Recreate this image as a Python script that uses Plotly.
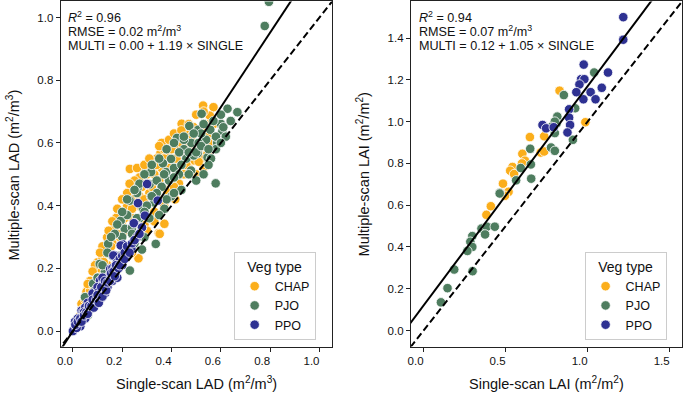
import plotly.graph_objects as go

W, H = 684, 394

# ---------------- data ----------------
# Left panel: LAD, single-scan (x) vs multiple-scan (y)
lad_chap_x = [0.528, 0.570, 0.555, 0.441, 0.546, 0.382, 0.465, 0.49, 0.355, 0.382, 0.317, 0.284, 0.34, 0.27,
              0.237, 0.230, 0.244, 0.19, 0.176, 0.139, 0.130, 0.10, 0.093, 0.062, 0.055, 0.035, 0.266, 0.348,
              0.371, 0.398, 0.415, 0.438, 0.492, 0.52, 0.546, 0.566, 0.56, 0.51, 0.45, 0.40, 0.42, 0.36, 0.33,
              0.30, 0.31, 0.28, 0.26, 0.22, 0.20, 0.21, 0.17, 0.16, 0.15, 0.12, 0.11, 0.08, 0.07, 0.05, 0.04,
              0.03, 0.13, 0.18, 0.22, 0.25, 0.29, 0.33, 0.35, 0.38, 0.43, 0.47, 0.50, 0.53, 0.45, 0.48, 0.37,
              0.32, 0.25, 0.27, 0.24, 0.19, 0.14, 0.09, 0.06, 0.352, 0.231, 0.285, 0.43, 0.40, 0.36,
              0.26, 0.29, 0.31, 0.35, 0.39, 0.41, 0.44, 0.47, 0.50, 0.53, 0.22, 0.23, 0.20, 0.18, 0.16,
              0.145, 0.12, 0.11, 0.09, 0.08, 0.07, 0.06, 0.30, 0.34, 0.37, 0.40, 0.44, 0.47, 0.49, 0.52,
              0.55, 0.57, 0.29, 0.27, 0.32, 0.35, 0.39, 0.42, 0.46, 0.51, 0.24, 0.21, 0.18, 0.155, 0.125,
              0.10, 0.085, 0.37, 0.41, 0.33, 0.30, 0.24, 0.20, 0.42, 0.48, 0.55]
lad_chap_y = [0.719, 0.714, 0.687, 0.661, 0.658, 0.604, 0.626, 0.63, 0.567, 0.567, 0.538, 0.516, 0.55, 0.49,
              0.459, 0.438, 0.42, 0.379, 0.361, 0.299, 0.267, 0.219, 0.182, 0.14, 0.125, 0.087, 0.232, 0.312,
              0.342, 0.427, 0.42, 0.507, 0.544, 0.55, 0.566, 0.613, 0.59, 0.58, 0.57, 0.55, 0.58, 0.52, 0.50,
              0.47, 0.44, 0.46, 0.40, 0.40, 0.35, 0.32, 0.33, 0.28, 0.25, 0.23, 0.20, 0.16, 0.13, 0.10, 0.07,
              0.05, 0.17, 0.22, 0.26, 0.30, 0.34, 0.38, 0.42, 0.45, 0.47, 0.52, 0.50, 0.52, 0.50, 0.62, 0.58,
              0.52, 0.48, 0.43, 0.36, 0.30, 0.21, 0.12, 0.08, 0.31, 0.517, 0.517, 0.61, 0.47, 0.60,
              0.52, 0.53, 0.55, 0.59, 0.61, 0.63, 0.64, 0.66, 0.69, 0.70, 0.44, 0.47, 0.42, 0.39, 0.35,
              0.32, 0.27, 0.25, 0.21, 0.19, 0.16, 0.15, 0.50, 0.53, 0.55, 0.58, 0.60, 0.59, 0.65, 0.64,
              0.63, 0.66, 0.42, 0.40, 0.46, 0.48, 0.52, 0.55, 0.53, 0.54, 0.39, 0.36, 0.31, 0.27, 0.22,
              0.17, 0.14, 0.40, 0.46, 0.35, 0.32, 0.25, 0.22, 0.50, 0.56, 0.60]

lad_pjo_x = [0.627, 0.667, 0.522, 0.472, 0.6, 0.606, 0.422, 0.508, 0.557, 0.48, 0.45, 0.431, 0.398, 0.365,
             0.317, 0.506, 0.546, 0.479, 0.378, 0.41, 0.579, 0.264, 0.311, 0.34, 0.23, 0.317, 0.284, 0.371,
             0.194, 0.21, 0.24, 0.143, 0.20, 0.29, 0.336, 0.231, 0.109, 0.082, 0.049, 0.03, 0.778, 0.795,
             0.44, 0.50, 0.53, 0.56, 0.585, 0.54, 0.46, 0.36, 0.33, 0.27, 0.25, 0.21, 0.18, 0.15, 0.12, 0.10,
             0.07, 0.06, 0.04, 0.16, 0.13, 0.39, 0.30, 0.35, 0.40, 0.43, 0.51, 0.58, 0.62, 0.17, 0.22, 0.26,
             0.28, 0.45, 0.49, 0.52,
             0.38, 0.41, 0.45, 0.49, 0.53, 0.57, 0.60, 0.35, 0.32, 0.29, 0.27, 0.25, 0.22, 0.20, 0.18,
             0.155, 0.14, 0.12, 0.10, 0.09, 0.34, 0.37, 0.41, 0.44, 0.47, 0.50, 0.52, 0.55, 0.58, 0.61,
             0.64, 0.31, 0.28, 0.26, 0.23, 0.19, 0.32, 0.29, 0.24, 0.26, 0.38, 0.41, 0.47, 0.55, 0.60]
lad_pjo_y = [0.709, 0.698, 0.693, 0.654, 0.661, 0.637, 0.616, 0.642, 0.642, 0.60, 0.58, 0.570, 0.549, 0.535,
             0.507, 0.567, 0.554, 0.512, 0.507, 0.52, 0.471, 0.459, 0.468, 0.48, 0.416, 0.429, 0.39, 0.39,
             0.352, 0.326, 0.33, 0.278, 0.30, 0.299, 0.278, 0.193, 0.214, 0.151, 0.108, 0.023, 0.973, 1.05,
             0.45, 0.48, 0.50, 0.55, 0.60, 0.61, 0.55, 0.46, 0.41, 0.36, 0.28, 0.25, 0.21, 0.18, 0.14, 0.11,
             0.08, 0.05, 0.04, 0.24, 0.19, 0.48, 0.40, 0.37, 0.43, 0.50, 0.60, 0.58, 0.62, 0.31, 0.37, 0.44,
             0.26, 0.61, 0.56, 0.63,
             0.58, 0.60, 0.62, 0.63, 0.66, 0.67, 0.69, 0.55, 0.53, 0.50, 0.47, 0.45, 0.42, 0.38, 0.34,
             0.30, 0.25, 0.21, 0.17, 0.13, 0.44, 0.50, 0.49, 0.53, 0.57, 0.57, 0.59, 0.58, 0.62, 0.65,
             0.67, 0.36, 0.33, 0.30, 0.27, 0.24, 0.43, 0.38, 0.31, 0.36, 0.42, 0.44, 0.50, 0.53, 0.60]

lad_ppo_x = [0.301, 0.344, 0.264, 0.25, 0.203, 0.169, 0.237, 0.156, 0.116, 0.089, 0.035, 0.009, 0.0,
             0.292, 0.247, 0.194, 0.164, 0.151, 0.11, 0.02, 0.03, 0.04, 0.05, 0.06, 0.07, 0.08, 0.09,
             0.10, 0.11, 0.12, 0.13, 0.14, 0.15, 0.16, 0.17, 0.18, 0.19, 0.20, 0.21, 0.22, 0.24, 0.26,
             0.28, 0.05, 0.07, 0.10, 0.12, 0.14, 0.16, 0.04, 0.06, 0.08, 0.10, 0.12, 0.02, 0.03, 0.015,
             0.05, 0.09, 0.11, 0.13, 0.18, 0.20, 0.025, 0.045, 0.065, 0.085, 0.105, 0.125,
             0.01, 0.02, 0.03, 0.035, 0.045, 0.055, 0.06, 0.065, 0.075, 0.08, 0.085, 0.095, 0.10, 0.105,
             0.115, 0.12, 0.13, 0.135, 0.14, 0.15, 0.155, 0.165, 0.17, 0.175, 0.185, 0.19, 0.21, 0.23,
             0.25, 0.27]
lad_ppo_y = [0.469, 0.416, 0.408, 0.344, 0.276, 0.241, 0.262, 0.193, 0.151, 0.108, 0.065, 0.031, 0.0,
             0.368, 0.344, 0.273, 0.241, 0.198, 0.161, 0.02, 0.03, 0.05, 0.05, 0.07, 0.09, 0.09, 0.11,
             0.12, 0.13, 0.15, 0.15, 0.17, 0.18, 0.20, 0.20, 0.22, 0.23, 0.24, 0.25, 0.27, 0.28, 0.30,
             0.33, 0.04, 0.07, 0.10, 0.12, 0.14, 0.16, 0.06, 0.09, 0.12, 0.14, 0.17, 0.04, 0.015, 0.01,
             0.075, 0.09, 0.10, 0.12, 0.17, 0.21, 0.035, 0.06, 0.08, 0.10, 0.125, 0.145,
             0.02, 0.03, 0.04, 0.03, 0.05, 0.06, 0.055, 0.08, 0.08, 0.10, 0.075, 0.10, 0.115, 0.09,
             0.14, 0.11, 0.16, 0.13, 0.155, 0.16, 0.185, 0.19, 0.175, 0.21, 0.20, 0.21, 0.23, 0.25,
             0.29, 0.31]

# Right panel: LAI
lai_chap_x = [0.829, 0.986, 0.648, 0.735, 0.714, 0.735, 0.602, 0.618, 0.60, 0.542, 0.528, 0.552, 0.484,
              0.51, 0.518, 0.496, 0.41, 0.383]
lai_chap_y = [1.148, 0.997, 0.926, 0.93, 0.852, 0.857, 0.846, 0.813, 0.80, 0.783, 0.765, 0.749, 0.703,
              0.662, 0.664, 0.645, 0.595, 0.554]

lai_pjo_x = [1.04, 0.855, 0.924, 0.815, 0.81, 0.80, 0.78, 0.80, 0.91, 0.777, 0.80, 0.65, 0.654, 0.656,
             0.592, 0.564, 0.464, 0.464, 0.353, 0.386, 0.434, 0.375, 0.297, 0.285, 0.297, 0.267, 0.187,
             0.299, 0.146, 0.106]
lai_pjo_y = [1.235, 1.127, 1.064, 1.024, 0.99, 1.0, 0.975, 0.945, 0.913, 0.876, 0.86, 0.87, 0.795, 0.727,
             0.778, 0.719, 0.659, 0.656, 0.488, 0.497, 0.497, 0.46, 0.452, 0.425, 0.40, 0.381, 0.292,
             0.284, 0.203, 0.135]

lai_ppo_x = [1.217, 1.217, 0.976, 1.124, 0.96, 0.98, 0.95, 0.931, 1.018, 1.086, 0.974, 1.048, 0.887,
             0.887, 0.893, 0.725, 0.747, 0.793, 0.877]
lai_ppo_y = [1.50, 1.392, 1.273, 1.235, 1.203, 1.203, 1.178, 1.141, 1.141, 1.162, 1.107, 1.107, 1.059,
             1.019, 0.984, 0.984, 0.968, 0.973, 0.948]

groups = ["CHAP", "PJO", "PPO"]
colors = {"CHAP": "#FBAE1B", "PJO": "#4E7D5F", "PPO": "#2E3192"}

lad_fit = (0.00, 1.19)
lai_fit = (0.12, 1.05)
lad_range = [-0.0496, 1.051]
lai_range = [-0.077, 1.575]

lad_lines = ["<i>R</i><sup>2</sup> = 0.96", "RMSE = 0.02 m<sup>2</sup>/m<sup>3</sup>",
             "MULTI = 0.00 + 1.19 × SINGLE"]
lai_lines = ["<i>R</i><sup>2</sup> = 0.94", "RMSE = 0.07 m<sup>2</sup>/m<sup>3</sup>",
             "MULTI = 0.12 + 1.05 × SINGLE"]

# ---------------- figure ----------------
FONT = "Liberation Sans, Arial, Helvetica, sans-serif"
fig = go.Figure()

lad = {"CHAP": (lad_chap_x, lad_chap_y), "PJO": (lad_pjo_x, lad_pjo_y), "PPO": (lad_ppo_x, lad_ppo_y)}
lai = {"CHAP": (lai_chap_x, lai_chap_y), "PJO": (lai_pjo_x, lai_pjo_y), "PPO": (lai_ppo_x, lai_ppo_y)}

MS = 9.5
for g in groups:
    fig.add_trace(go.Scatter(x=lad[g][0], y=lad[g][1], mode="markers", name=g,
                             marker=dict(size=MS, color=colors[g], line=dict(color="white", width=0.8)),
                             xaxis="x", yaxis="y", legend="legend", cliponaxis=True))
for g in groups:
    fig.add_trace(go.Scatter(x=lai[g][0], y=lai[g][1], mode="markers", name=g,
                             marker=dict(size=MS, color=colors[g], line=dict(color="white", width=0.8)),
                             xaxis="x2", yaxis="y2", legend="legend2", cliponaxis=True))

# fit (solid) and 1:1 (dashed) lines across the full axes
for (ax, ay, rng, fit) in [("x", "y", lad_range, lad_fit), ("x2", "y2", lai_range, lai_fit)]:
    xs = [rng[0] - 0.2, rng[1] + 0.2]
    fig.add_trace(go.Scatter(x=xs, y=[fit[0] + fit[1] * v for v in xs], mode="lines",
                             line=dict(color="black", width=2), showlegend=False,
                             xaxis=ax, yaxis=ay, hoverinfo="skip"))
    fig.add_trace(go.Scatter(x=xs, y=xs, mode="lines",
                             line=dict(color="black", width=2, dash="7px,3.5px"), showlegend=False,
                             xaxis=ax, yaxis=ay, hoverinfo="skip"))

ydom = [1 - 346.5 / H, 1 - 0.5 / H]
axis_common = dict(showgrid=False, zeroline=False, showline=True, mirror=True, linecolor="#222",
                   linewidth=1, ticks="outside", ticklen=4, tickwidth=1, tickcolor="#222",
                   tickfont=dict(family=FONT, size=11.5, color="#111"), tickformat=".1f", fixedrange=True)

legend_common = dict(yanchor="top", xanchor="left", bgcolor="rgba(255,255,255,0.85)",
                     bordercolor="#cccccc", borderwidth=1, font=dict(family=FONT, size=12.5),
                     title=dict(text="Veg type", side="top center", font=dict(family=FONT, size=14)))

fig.update_layout(
    width=W, height=H, margin=dict(l=0, r=0, t=0, b=0),
    paper_bgcolor="white", plot_bgcolor="white",
    font=dict(family=FONT, color="#111"),
    xaxis=dict(domain=[57 / W, 330 / W], range=lad_range, tickvals=[0, 0.2, 0.4, 0.6, 0.8, 1.0],
               anchor="y", ticklabelshift=-8, **axis_common),
    yaxis=dict(domain=ydom, range=lad_range, tickvals=[0, 0.2, 0.4, 0.6, 0.8, 1.0],
               anchor="x", **axis_common),
    xaxis2=dict(domain=[409.3 / W, 682 / W], range=lai_range, tickvals=[0, 0.5, 1.0, 1.5],
                anchor="y2", ticklabelshift=-8, **axis_common),
    yaxis2=dict(domain=ydom, range=lai_range, tickvals=[0, 0.2, 0.4, 0.6, 0.8, 1.0, 1.2, 1.4],
                anchor="x2", **axis_common),
    legend=dict(x=231 / W, y=1 - 252 / H, **legend_common),
    legend2=dict(x=584 / W, y=1 - 252 / H, **legend_common),
    showlegend=True,
)

ann_font = dict(family=FONT, size=12.6, color="#111")
title_font = dict(family=FONT, size=14.5, color="#111")
annotations = []
for (x0, lines) in [(62, lad_lines), (415, lai_lines)]:
    for i, t in enumerate(lines):
        annotations.append(dict(text=t, x=x0 / W, y=1 - (16 + 14.5 * i) / H, xref="paper", yref="paper",
                                xanchor="left", yanchor="middle", align="left", showarrow=False,
                                font=ann_font))
annotations += [
    dict(text="Single-scan LAD (m<sup>2</sup>/m<sup>3</sup>)", x=193.5 / W, y=1 - 383 / H, xref="paper",
         yref="paper", xanchor="center", yanchor="middle", showarrow=False, font=title_font),
    dict(text="Single-scan LAI (m<sup>2</sup>/m<sup>2</sup>)", x=545.6 / W, y=1 - 383 / H, xref="paper",
         yref="paper", xanchor="center", yanchor="middle", showarrow=False, font=title_font),
    dict(text="Multiple-scan LAD (m<sup>2</sup>/m<sup>3</sup>)", x=9 / W, y=1 - 174 / H, xref="paper",
         yref="paper", xanchor="center", yanchor="middle", textangle=-90, showarrow=False, font=title_font),
    dict(text="Multiple-scan LAI (m<sup>2</sup>/m<sup>2</sup>)", x=361 / W, y=1 - 174 / H, xref="paper",
         yref="paper", xanchor="center", yanchor="middle", textangle=-90, showarrow=False, font=title_font),
]
fig.update_layout(annotations=annotations)

fig.write_html("out.html", config={"displayModeBar": False},
               post_script="document.body.style.margin='0';document.body.style.overflow='hidden';")
